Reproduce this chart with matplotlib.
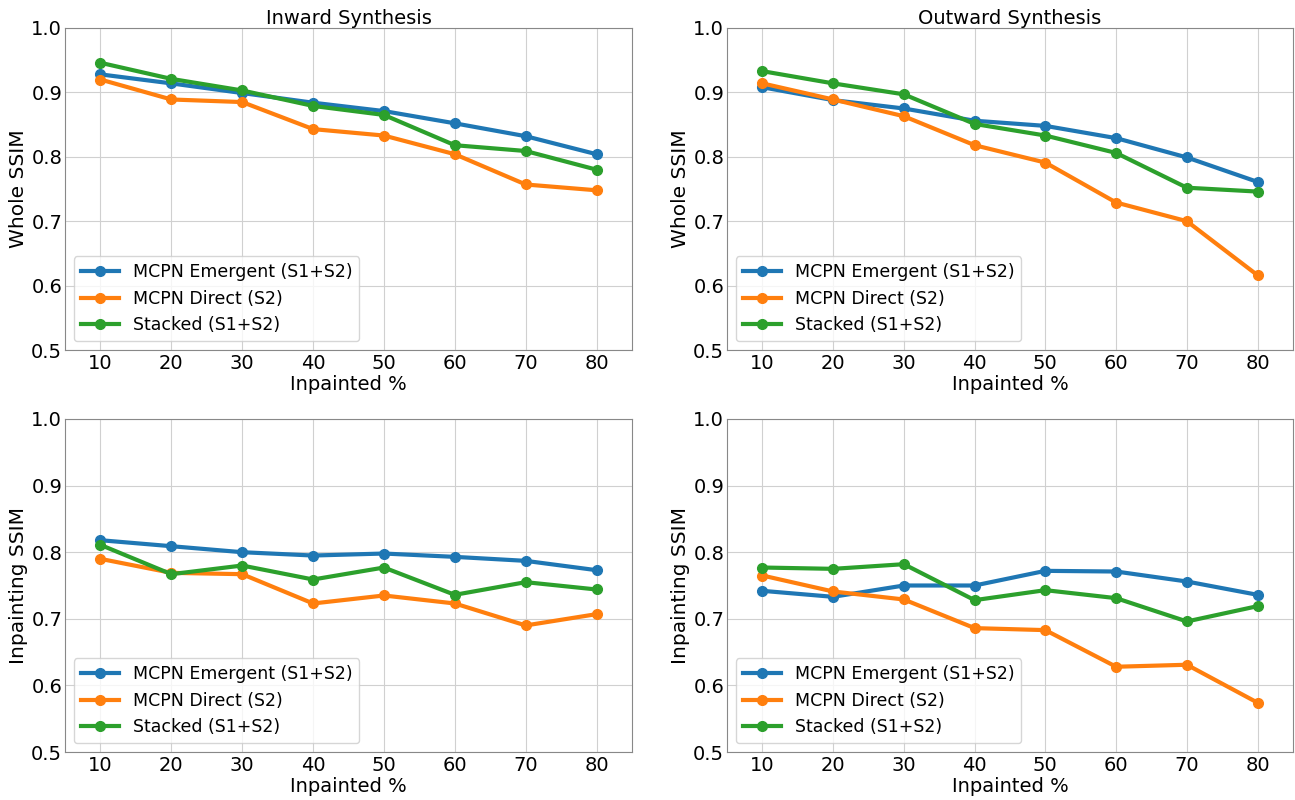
import numpy as np
import matplotlib
matplotlib.use("Agg")
import matplotlib.pyplot as plt

inpainted = [10, 20, 30, 40, 50, 60, 70, 80]
series_names = ["MCPN Emergent (S1+S2)", "MCPN Direct (S2)", "Stacked (S1+S2)"]

# Whole SSIM
inward_whole_emergent = [0.928, 0.914, 0.899, 0.884, 0.871, 0.852, 0.832, 0.804]
inward_whole_direct = [0.920, 0.889, 0.885, 0.843, 0.833, 0.804, 0.757, 0.748]
inward_whole_stacked = [0.946, 0.921, 0.903, 0.879, 0.865, 0.818, 0.809, 0.780]

outward_whole_emergent = [0.908, 0.888, 0.875, 0.856, 0.848, 0.829, 0.799, 0.761]
outward_whole_direct = [0.914, 0.889, 0.863, 0.818, 0.791, 0.729, 0.700, 0.616]
outward_whole_stacked = [0.933, 0.914, 0.897, 0.851, 0.833, 0.806, 0.752, 0.746]

# Inpainting SSIM
inward_inp_emergent = [0.818, 0.809, 0.800, 0.795, 0.798, 0.793, 0.787, 0.773]
inward_inp_direct = [0.790, 0.769, 0.767, 0.723, 0.735, 0.723, 0.690, 0.707]
inward_inp_stacked = [0.811, 0.767, 0.780, 0.759, 0.777, 0.736, 0.755, 0.744]

outward_inp_emergent = [0.742, 0.733, 0.750, 0.750, 0.772, 0.771, 0.756, 0.736]
outward_inp_direct = [0.765, 0.741, 0.729, 0.686, 0.683, 0.628, 0.631, 0.574]
outward_inp_stacked = [0.777, 0.775, 0.782, 0.728, 0.743, 0.731, 0.696, 0.719]

colors = ["#1f77b4", "#ff7f0e", "#2ca02c"]

panels = [
    ("Inward Synthesis", "Whole SSIM", [inward_whole_emergent, inward_whole_direct, inward_whole_stacked]),
    ("Outward Synthesis", "Whole SSIM", [outward_whole_emergent, outward_whole_direct, outward_whole_stacked]),
    (None, "Inpainting SSIM", [inward_inp_emergent, inward_inp_direct, inward_inp_stacked]),
    (None, "Inpainting SSIM", [outward_inp_emergent, outward_inp_direct, outward_inp_stacked]),
]

# axes boxes in pixels (left, top, right, bottom) on a 1295x800 canvas
W, H = 1295, 800
boxes = [(65, 28, 632, 350), (727, 28, 1293, 350),
         (65, 419, 632, 752), (727, 419, 1293, 752)]

fig = plt.figure(figsize=(12.95, 8), dpi=100)

for (title, ylabel, data), (l, t, r, b) in zip(panels, boxes):
    ax = fig.add_axes([l / W, 1 - b / H, (r - l) / W, (b - t) / H])
    for vals, name, c in zip(data, series_names, colors):
        ax.plot(inpainted, vals, marker="o", color=c, linewidth=3, markersize=7, label=name)
    ax.set_xlim(5, 85)
    ax.set_ylim(0.5, 1.0)
    ax.set_xticks(inpainted)
    ax.set_yticks([0.5, 0.6, 0.7, 0.8, 0.9, 1.0])
    ax.tick_params(axis="x", labelsize=14, length=0, pad=3)
    ax.tick_params(axis="y", labelsize=14, length=0, pad=2)
    ax.grid(True, color="#d0d0d0", linewidth=0.8)
    ax.set_axisbelow(True)
    for s in ax.spines.values():
        s.set_color("#888888")
    if title:
        ax.set_title(title, fontsize=14, pad=3)
    ax.set_xlabel("Inpainted %", fontsize=14, labelpad=1)
    ax.set_ylabel(ylabel, fontsize=14.5, labelpad=2)
    ax.legend(loc="lower left", fontsize=12.5, handlelength=2.2)

fig.savefig("out.png", dpi=100)
